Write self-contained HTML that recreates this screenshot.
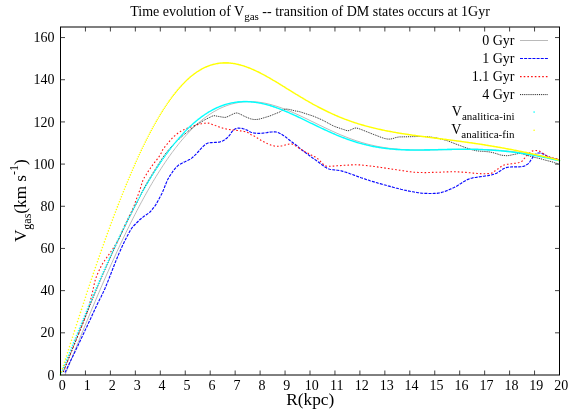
<!DOCTYPE html>
<html><head><meta charset="utf-8"><title>V_gas time evolution</title>
<style>
html,body{margin:0;padding:0;background:#fff;}
body{width:575px;height:411px;overflow:hidden;position:relative;font-family:"Liberation Serif",serif;}
</style></head><body>
<svg width="575" height="411" viewBox="0 0 575 411" style="position:absolute;left:0;top:0;will-change:transform">
<rect width="575" height="411" fill="#fff"/>
<path d="M65.0,375.0 L66.0,372.5 L67.0,370.0 L68.0,367.5 L69.0,365.0 L70.0,362.6 L71.0,360.1 L72.0,357.6 L73.0,355.1 L74.0,352.7 L75.0,350.2 L76.0,347.7 L77.0,345.3 L78.0,342.8 L79.0,340.3 L80.0,337.9 L81.0,335.4 L82.0,333.0 L83.0,330.6 L84.0,328.1 L85.0,325.7 L86.0,323.3 L87.0,320.9 L88.0,318.4 L89.0,316.0 L90.0,313.6 L91.0,311.2 L92.0,308.8 L93.0,306.5 L94.0,304.1 L95.0,301.7 L96.0,299.3 L97.0,297.0 L98.0,294.6 L99.0,292.3 L100.0,290.0 L101.0,287.6 L102.0,285.3 L103.0,283.0 L104.0,280.7 L105.0,278.4 L106.0,276.1 L107.0,273.8 L108.0,271.6 L109.0,269.3 L110.0,267.1 L111.0,264.8 L112.0,262.6 L113.0,260.4 L114.0,258.2 L115.0,256.0 L116.0,253.8 L117.0,251.6 L118.0,249.4 L119.0,247.3 L120.0,245.1 L121.0,243.0 L122.0,240.9 L123.0,238.8 L124.0,236.7 L125.0,234.6 L126.0,232.5 L127.0,230.4 L128.0,228.4 L129.0,226.4 L130.0,224.3 L131.0,222.3 L132.0,220.3 L133.0,218.3 L134.0,216.4 L135.0,214.4 L136.0,212.5 L137.0,210.5 L138.0,208.6 L139.0,206.7 L140.0,204.8 L141.0,202.9 L142.0,201.1 L143.0,199.2 L144.0,197.4 L145.0,195.6 L146.0,193.8 L147.0,192.0 L148.0,190.2 L149.0,188.5 L150.0,186.7 L151.0,185.0 L152.0,183.3 L153.0,181.6 L154.0,179.9 L155.0,178.3 L156.0,176.6 L157.0,175.0 L158.0,173.4 L159.0,171.8 L160.0,170.2 L161.0,168.7 L162.0,167.1 L163.0,165.6 L164.0,164.1 L165.0,162.6 L166.0,161.1 L167.0,159.7 L168.0,158.2 L169.0,156.8 L170.0,155.4 L171.0,154.0 L172.0,152.6 L173.0,151.3 L174.0,150.0 L175.0,148.6 L176.0,147.3 L177.0,146.1 L178.0,144.8 L179.0,143.5 L180.0,142.3 L181.0,141.1 L182.0,139.9 L183.0,138.8 L184.0,137.6 L185.0,136.5 L186.0,135.3 L187.0,134.3 L188.0,133.2 L189.0,132.1 L190.0,131.1 L191.0,130.0 L192.0,129.0 L193.0,128.1 L194.0,127.1 L195.0,126.1 L196.0,125.2 L197.0,124.3 L198.0,123.4 L199.0,122.5 L200.0,121.7 L201.0,120.8 L202.0,120.0 L203.0,119.2 L204.0,118.4 L205.0,117.7 L206.0,116.9 L207.0,116.2 L208.0,115.5 L209.0,114.8 L210.0,114.1 L211.0,113.5 L212.0,112.9 L213.0,112.2 L214.0,111.6 L215.0,111.1 L216.0,110.5 L217.0,110.0 L218.0,109.4 L219.0,108.9 L220.0,108.4 L221.0,108.0 L222.0,107.5 L223.0,107.1 L224.0,106.7 L225.0,106.3 L226.0,105.9 L227.0,105.5 L228.0,105.2 L229.0,104.8 L230.0,104.5 L231.0,104.2 L232.0,103.9 L233.0,103.7 L234.0,103.4 L235.0,103.2 L236.0,103.0 L237.0,102.8 L238.0,102.6 L239.0,102.4 L240.0,102.3 L241.0,102.1 L242.0,102.0 L243.0,101.9 L244.0,101.8 L245.0,101.8 L246.0,101.7 L247.0,101.7 L248.0,101.6 L249.0,101.6 L250.0,101.6 L251.0,101.6 L252.0,101.7 L253.0,101.7 L254.0,101.7 L255.0,101.8 L256.0,101.9 L257.0,102.0 L258.0,102.1 L259.0,102.2 L260.0,102.4 L261.0,102.5 L262.0,102.7 L263.0,102.8 L264.0,103.0 L265.0,103.2 L266.0,103.4 L267.0,103.6 L268.0,103.9 L269.0,104.1 L270.0,104.4 L271.0,104.6 L272.0,104.9 L273.0,105.2 L274.0,105.5 L275.0,105.8 L276.0,106.1 L277.0,106.4 L278.0,106.7 L279.0,107.1 L280.0,107.4 L281.0,107.8 L282.0,108.1 L283.0,108.5 L284.0,108.9 L285.0,109.2 L286.0,109.6 L287.0,110.0 L288.0,110.4 L289.0,110.9 L290.0,111.3 L291.0,111.7 L292.0,112.1 L293.0,112.5 L294.0,113.0 L295.0,113.4 L296.0,113.9 L297.0,114.3 L298.0,114.8 L299.0,115.2 L300.0,115.7 L301.0,116.2 L302.0,116.6 L303.0,117.1 L304.0,117.6 L305.0,118.1 L306.0,118.5 L307.0,119.0 L308.0,119.5 L309.0,120.0 L310.0,120.5 L311.0,121.0 L312.0,121.5 L313.0,121.9 L314.0,122.4 L315.0,122.9 L316.0,123.4 L317.0,123.9 L318.0,124.4 L319.0,124.9 L320.0,125.4 L321.0,125.8 L322.0,126.3 L323.0,126.8 L324.0,127.3 L325.0,127.8 L326.0,128.2 L327.0,128.7 L328.0,129.2 L329.0,129.6 L330.0,130.1 L331.0,130.6 L332.0,131.0 L333.0,131.5 L334.0,131.9 L335.0,132.4 L336.0,132.8 L337.0,133.3 L338.0,133.7 L339.0,134.1 L340.0,134.6 L341.0,135.0 L342.0,135.4 L343.0,135.8 L344.0,136.2 L345.0,136.6 L346.0,137.0 L347.0,137.4 L348.0,137.8 L349.0,138.2 L350.0,138.5 L351.0,138.9 L352.0,139.3 L353.0,139.6 L354.0,140.0 L355.0,140.3 L356.0,140.7 L357.0,141.0 L358.0,141.3 L359.0,141.6 L360.0,141.9 L361.0,142.3 L362.0,142.6 L363.0,142.8 L364.0,143.1 L365.0,143.4 L366.0,143.7 L367.0,144.0 L368.0,144.2 L369.0,144.5 L370.0,144.7 L371.0,145.0 L372.0,145.2 L373.0,145.4 L374.0,145.7 L375.0,145.9 L376.0,146.1 L377.0,146.3 L378.0,146.5 L379.0,146.7 L380.0,146.9 L381.0,147.0 L382.0,147.2 L383.0,147.4 L384.0,147.5 L385.0,147.7 L386.0,147.8 L387.0,148.0 L388.0,148.1 L389.0,148.3 L390.0,148.4 L391.0,148.5 L392.0,148.6 L393.0,148.7 L394.0,148.8 L395.0,148.9 L396.0,149.0 L397.0,149.1 L398.0,149.2 L399.0,149.3 L400.0,149.3 L401.0,149.4 L402.0,149.5 L403.0,149.5 L404.0,149.6 L405.0,149.7 L406.0,149.7 L407.0,149.7 L408.0,149.8 L409.0,149.8 L410.0,149.9 L411.0,149.9 L412.0,149.9 L413.0,149.9 L414.0,150.0 L415.0,150.0 L416.0,150.0 L417.0,150.0 L418.0,150.0 L419.0,150.0 L420.0,150.0 L421.0,150.0 L422.0,150.0 L423.0,150.0 L424.0,150.0 L425.0,150.0 L426.0,150.0 L427.0,150.0 L428.0,150.0 L429.0,150.0 L430.0,149.9 L431.0,149.9 L432.0,149.9 L433.0,149.9 L434.0,149.9 L435.0,149.8 L436.0,149.8 L437.0,149.8 L438.0,149.8 L439.0,149.7 L440.0,149.7 L441.0,149.7 L442.0,149.7 L443.0,149.7 L444.0,149.6 L445.0,149.6 L446.0,149.6 L447.0,149.6 L448.0,149.5 L449.0,149.5 L450.0,149.5 L451.0,149.5 L452.0,149.4 L453.0,149.4 L454.0,149.4 L455.0,149.4 L456.0,149.4 L457.0,149.3 L458.0,149.3 L459.0,149.3 L460.0,149.3 L461.0,149.3 L462.0,149.3 L463.0,149.3 L464.0,149.3 L465.0,149.3 L466.0,149.2 L467.0,149.2 L468.0,149.2 L469.0,149.2 L470.0,149.2 L471.0,149.3 L472.0,149.3 L473.0,149.3 L474.0,149.3 L475.0,149.3 L476.0,149.3 L477.0,149.3 L478.0,149.3 L479.0,149.4 L480.0,149.4 L481.0,149.4 L482.0,149.4 L483.0,149.5 L484.0,149.5 L485.0,149.5 L486.0,149.6 L487.0,149.6 L488.0,149.7 L489.0,149.7 L490.0,149.7 L491.0,149.8 L492.0,149.8 L493.0,149.9 L494.0,150.0 L495.0,150.0 L496.0,150.1 L497.0,150.2 L498.0,150.2 L499.0,150.3 L500.0,150.4 L501.0,150.4 L502.0,150.5 L503.0,150.6 L504.0,150.7 L505.0,150.8 L506.0,150.9 L507.0,151.0 L508.0,151.1 L509.0,151.2 L510.0,151.3 L511.0,151.4 L512.0,151.5 L513.0,151.6 L514.0,151.7 L515.0,151.8 L516.0,151.9 L517.0,152.1 L518.0,152.2 L519.0,152.3 L520.0,152.4 L521.0,152.6 L522.0,152.7 L523.0,152.9 L524.0,153.0 L525.0,153.1 L526.0,153.3 L527.0,153.4 L528.0,153.6 L529.0,153.7 L530.0,153.9 L531.0,154.1 L532.0,154.2 L533.0,154.4 L534.0,154.6 L535.0,154.7 L536.0,154.9 L537.0,155.1 L538.0,155.3 L539.0,155.5 L540.0,155.6 L541.0,155.8 L542.0,156.0 L543.0,156.2 L544.0,156.4 L545.0,156.6 L546.0,156.8 L547.0,157.0 L548.0,157.2 L549.0,157.4 L550.0,157.6 L551.0,157.8 L552.0,158.1 L553.0,158.3 L554.0,158.5 L555.0,158.7 L556.0,158.9 L557.0,159.2 L558.0,159.4 L559.0,159.6 L559.5,159.7" stroke="#b2b2b2" stroke-width="0.9" fill="none"/>
<path d="M65.0,372.5 L66.0,370.4 L67.0,368.4 L68.0,366.3 L69.0,364.2 L70.0,362.1 L71.0,360.0 L72.0,358.0 L73.0,355.9 L74.0,353.8 L75.0,351.7 L76.0,349.6 L77.0,347.5 L78.0,345.4 L79.0,343.3 L80.0,341.2 L81.0,339.1 L82.0,337.0 L83.0,334.8 L84.0,332.7 L85.0,330.6 L86.0,328.5 L87.0,326.4 L88.0,324.2 L89.0,322.1 L90.0,319.9 L91.0,317.8 L92.0,315.6 L93.0,313.4 L94.0,311.3 L95.0,309.1 L96.0,307.0 L97.0,304.8 L98.0,302.8 L99.0,300.8 L100.0,298.8 L101.0,296.9 L102.0,294.8 L103.0,292.8 L104.0,290.6 L105.0,288.4 L106.0,286.0 L107.0,283.6 L108.0,281.1 L109.0,278.6 L110.0,276.0 L111.0,273.5 L112.0,270.9 L113.0,268.3 L114.0,265.7 L115.0,263.1 L116.0,260.6 L117.0,258.2 L118.0,255.8 L119.0,253.4 L120.0,251.2 L121.0,248.9 L122.0,246.8 L123.0,244.6 L124.0,242.5 L125.0,240.5 L126.0,238.5 L127.0,236.6 L128.0,234.7 L129.0,232.8 L130.0,231.0 L131.0,229.3 L132.0,227.8 L133.0,226.6 L134.0,225.5 L135.0,224.5 L136.0,223.5 L137.0,222.5 L138.0,221.5 L139.0,220.5 L140.0,219.5 L141.0,218.7 L142.0,217.9 L143.0,217.1 L144.0,216.3 L145.0,215.6 L146.0,214.9 L147.0,214.3 L148.0,213.6 L149.0,212.9 L150.0,212.0 L151.0,210.9 L152.0,209.7 L153.0,208.4 L154.0,207.2 L155.0,205.9 L156.0,204.4 L157.0,202.6 L158.0,200.8 L159.0,198.9 L160.0,197.1 L161.0,195.2 L162.0,193.3 L163.0,191.1 L164.0,188.6 L165.0,186.0 L166.0,183.5 L167.0,181.1 L168.0,179.0 L169.0,177.2 L170.0,175.6 L171.0,174.2 L172.0,172.7 L173.0,171.2 L174.0,169.9 L175.0,168.6 L176.0,167.5 L177.0,166.5 L178.0,165.6 L179.0,164.8 L180.0,164.3 L181.0,163.7 L182.0,163.2 L183.0,162.7 L184.0,162.1 L185.0,161.7 L186.0,161.2 L187.0,160.7 L188.0,160.3 L189.0,159.8 L190.0,159.3 L191.0,158.6 L192.0,157.9 L193.0,157.0 L194.0,156.1 L195.0,155.2 L196.0,154.2 L197.0,153.1 L198.0,152.0 L199.0,150.9 L200.0,149.7 L201.0,148.6 L202.0,147.5 L203.0,146.5 L204.0,145.6 L205.0,144.7 L206.0,143.9 L207.0,143.4 L208.0,143.0 L209.0,142.9 L210.0,142.7 L211.0,142.6 L212.0,142.6 L213.0,142.5 L214.0,142.5 L215.0,142.4 L216.0,142.4 L217.0,142.4 L218.0,142.3 L219.0,142.1 L220.0,141.9 L221.0,141.5 L222.0,141.2 L223.0,140.8 L224.0,140.2 L225.0,139.6 L226.0,138.8 L227.0,138.0 L228.0,136.9 L229.0,135.8 L230.0,134.6 L231.0,133.2 L232.0,131.6 L233.0,130.5 L234.0,129.6 L235.0,129.0 L236.0,128.6 L237.0,128.3 L238.0,128.1 L239.0,128.1 L240.0,128.2 L241.0,128.2 L242.0,128.4 L243.0,128.7 L244.0,129.0 L245.0,129.3 L246.0,129.7 L247.0,130.1 L248.0,130.7 L249.0,131.3 L250.0,131.8 L251.0,132.2 L252.0,132.5 L253.0,132.8 L254.0,133.0 L255.0,133.1 L256.0,133.2 L257.0,133.4 L258.0,133.4 L259.0,133.4 L260.0,133.4 L261.0,133.3 L262.0,133.2 L263.0,133.1 L264.0,133.0 L265.0,132.8 L266.0,132.7 L267.0,132.6 L268.0,132.4 L269.0,132.3 L270.0,132.1 L271.0,132.0 L272.0,132.0 L273.0,131.9 L274.0,131.9 L275.0,131.9 L276.0,132.0 L277.0,132.2 L278.0,132.5 L279.0,132.9 L280.0,133.4 L281.0,133.9 L282.0,134.5 L283.0,135.2 L284.0,135.9 L285.0,136.6 L286.0,137.3 L287.0,138.1 L288.0,138.9 L289.0,139.7 L290.0,140.5 L291.0,141.2 L292.0,142.0 L293.0,142.7 L294.0,143.5 L295.0,144.2 L296.0,145.0 L297.0,145.7 L298.0,146.6 L299.0,147.6 L300.0,148.5 L301.0,149.3 L302.0,150.0 L303.0,150.8 L304.0,151.5 L305.0,152.3 L306.0,153.0 L307.0,153.8 L308.0,154.5 L309.0,155.3 L310.0,156.0 L311.0,156.7 L312.0,157.5 L313.0,158.2 L314.0,158.9 L315.0,159.6 L316.0,160.3 L317.0,161.1 L318.0,161.8 L319.0,162.5 L320.0,163.3 L321.0,164.0 L322.0,164.8 L323.0,165.5 L324.0,166.3 L325.0,167.0 L326.0,167.6 L327.0,168.2 L328.0,168.6 L329.0,169.0 L330.0,169.3 L331.0,169.5 L332.0,169.7 L333.0,169.8 L334.0,169.9 L335.0,170.0 L336.0,170.1 L337.0,170.2 L338.0,170.3 L339.0,170.5 L340.0,170.6 L341.0,170.8 L342.0,171.1 L343.0,171.4 L344.0,171.7 L345.0,172.0 L346.0,172.3 L347.0,172.6 L348.0,173.0 L349.0,173.3 L350.0,173.7 L351.0,174.0 L352.0,174.4 L353.0,174.7 L354.0,175.1 L355.0,175.5 L356.0,175.8 L357.0,176.2 L358.0,176.6 L359.0,177.0 L360.0,177.3 L361.0,177.7 L362.0,178.0 L363.0,178.4 L364.0,178.7 L365.0,179.0 L366.0,179.4 L367.0,179.7 L368.0,180.0 L369.0,180.3 L370.0,180.7 L371.0,181.0 L372.0,181.3 L373.0,181.6 L374.0,181.9 L375.0,182.2 L376.0,182.5 L377.0,182.8 L378.0,183.1 L379.0,183.3 L380.0,183.6 L381.0,183.9 L382.0,184.2 L383.0,184.5 L384.0,184.8 L385.0,185.0 L386.0,185.3 L387.0,185.6 L388.0,185.9 L389.0,186.1 L390.0,186.4 L391.0,186.7 L392.0,186.9 L393.0,187.2 L394.0,187.5 L395.0,187.7 L396.0,188.0 L397.0,188.2 L398.0,188.5 L399.0,188.7 L400.0,189.0 L401.0,189.3 L402.0,189.5 L403.0,189.7 L404.0,190.0 L405.0,190.2 L406.0,190.4 L407.0,190.7 L408.0,190.9 L409.0,191.1 L410.0,191.3 L411.0,191.5 L412.0,191.7 L413.0,191.8 L414.0,192.0 L415.0,192.2 L416.0,192.4 L417.0,192.5 L418.0,192.7 L419.0,192.8 L420.0,193.0 L421.0,193.1 L422.0,193.2 L423.0,193.2 L424.0,193.3 L425.0,193.3 L426.0,193.4 L427.0,193.4 L428.0,193.4 L429.0,193.5 L430.0,193.5 L431.0,193.5 L432.0,193.5 L433.0,193.5 L434.0,193.4 L435.0,193.4 L436.0,193.3 L437.0,193.3 L438.0,193.1 L439.0,193.0 L440.0,192.8 L441.0,192.6 L442.0,192.3 L443.0,192.0 L444.0,191.7 L445.0,191.4 L446.0,191.0 L447.0,190.6 L448.0,190.2 L449.0,189.7 L450.0,189.3 L451.0,188.9 L452.0,188.5 L453.0,188.0 L454.0,187.6 L455.0,187.0 L456.0,186.5 L457.0,185.9 L458.0,185.3 L459.0,184.6 L460.0,184.0 L461.0,183.4 L462.0,182.7 L463.0,182.1 L464.0,181.5 L465.0,180.9 L466.0,180.3 L467.0,179.8 L468.0,179.4 L469.0,179.0 L470.0,178.6 L471.0,178.3 L472.0,178.1 L473.0,177.8 L474.0,177.6 L475.0,177.5 L476.0,177.4 L477.0,177.2 L478.0,177.1 L479.0,176.9 L480.0,176.8 L481.0,176.6 L482.0,176.5 L483.0,176.3 L484.0,176.2 L485.0,176.0 L486.0,175.9 L487.0,175.7 L488.0,175.6 L489.0,175.4 L490.0,175.2 L491.0,175.0 L492.0,174.8 L493.0,174.5 L494.0,174.2 L495.0,173.9 L496.0,173.4 L497.0,172.9 L498.0,172.3 L499.0,171.7 L500.0,171.0 L501.0,170.4 L502.0,169.7 L503.0,169.1 L504.0,168.5 L505.0,168.1 L506.0,167.7 L507.0,167.4 L508.0,167.3 L509.0,167.1 L510.0,167.0 L511.0,167.0 L512.0,166.9 L513.0,166.9 L514.0,166.9 L515.0,166.9 L516.0,166.9 L517.0,166.9 L518.0,166.9 L519.0,166.9 L520.0,166.8 L521.0,166.7 L522.0,166.5 L523.0,166.4 L524.0,166.1 L525.0,165.7 L526.0,165.2 L527.0,164.6 L528.0,163.9 L529.0,163.0 L530.0,161.5 L531.0,159.9 L532.0,158.5 L533.0,157.0 L534.0,155.8 L535.0,154.7 L536.0,153.9 L537.0,153.4 L538.0,153.0 L539.0,153.0 L540.0,153.0 L541.0,153.2 L542.0,153.5 L543.0,153.9 L544.0,154.3 L545.0,154.9 L546.0,155.5 L547.0,156.1 L548.0,156.6 L549.0,157.1 L550.0,157.6 L551.0,158.0 L552.0,158.3 L553.0,158.6 L554.0,158.9 L555.0,159.1 L556.0,159.2 L557.0,159.4 L558.0,159.5 L559.0,159.6 L559.5,159.6" stroke="#0808ff" stroke-width="1.15" stroke-dasharray="3 1.15" fill="none"/>
<path d="M63.2,372.0 L64.2,369.5 L65.2,367.0 L66.2,364.5 L67.2,362.1 L68.2,359.6 L69.2,357.1 L70.2,354.6 L71.2,352.2 L72.2,349.7 L73.2,347.2 L74.2,344.8 L75.2,342.3 L76.2,339.9 L77.2,337.4 L78.2,335.0 L79.2,332.5 L80.2,330.1 L81.2,327.6 L82.2,325.1 L83.2,322.6 L84.2,320.0 L85.2,317.3 L86.2,314.6 L87.2,311.9 L88.2,309.1 L89.2,305.8 L90.2,302.0 L91.2,297.4 L92.2,293.3 L93.2,288.9 L94.2,284.3 L95.2,280.2 L96.2,277.2 L97.2,274.7 L98.2,272.4 L99.2,270.3 L100.2,268.1 L101.2,266.1 L102.2,264.3 L103.2,262.7 L104.2,261.2 L105.2,259.7 L106.2,258.2 L107.2,256.9 L108.2,255.5 L109.2,254.2 L110.2,252.8 L111.2,251.3 L112.2,249.8 L113.2,248.3 L114.2,246.7 L115.2,245.1 L116.2,243.4 L117.2,241.7 L118.2,239.8 L119.2,237.9 L120.2,235.9 L121.2,233.8 L122.2,231.5 L123.2,229.2 L124.2,226.9 L125.2,224.7 L126.2,222.7 L127.2,220.6 L128.2,218.5 L129.2,216.4 L130.2,214.3 L131.2,212.3 L132.2,210.2 L133.2,208.0 L134.2,205.5 L135.2,202.5 L136.2,199.7 L137.2,197.1 L138.2,194.6 L139.2,191.8 L140.2,188.9 L141.2,185.9 L142.2,182.1 L143.2,179.7 L144.2,177.8 L145.2,176.1 L146.2,174.6 L147.2,173.0 L148.2,171.4 L149.2,169.9 L150.2,168.5 L151.2,167.0 L152.2,165.6 L153.2,164.2 L154.2,162.9 L155.2,161.7 L156.2,160.5 L157.2,159.2 L158.2,157.8 L159.2,156.4 L160.2,154.9 L161.2,152.9 L162.2,150.6 L163.2,149.0 L164.2,147.7 L165.2,146.4 L166.2,145.2 L167.2,144.0 L168.2,142.8 L169.2,141.6 L170.2,140.4 L171.2,139.3 L172.2,138.2 L173.2,137.1 L174.2,136.2 L175.2,135.4 L176.2,134.5 L177.2,133.7 L178.2,133.0 L179.2,132.2 L180.2,131.6 L181.2,131.0 L182.2,130.5 L183.2,130.0 L184.2,129.6 L185.2,129.1 L186.2,128.7 L187.2,128.3 L188.2,128.0 L189.2,127.6 L190.2,127.2 L191.2,126.8 L192.2,126.5 L193.2,126.1 L194.2,125.8 L195.2,125.4 L196.2,125.1 L197.2,124.8 L198.2,124.5 L199.2,124.2 L200.2,124.0 L201.2,123.8 L202.2,123.7 L203.2,123.5 L204.2,123.3 L205.2,123.2 L206.2,123.1 L207.2,123.0 L208.2,123.1 L209.2,123.2 L210.2,123.5 L211.2,124.0 L212.2,124.4 L213.2,124.8 L214.2,125.1 L215.2,125.5 L216.2,125.8 L217.2,126.2 L218.2,126.6 L219.2,126.9 L220.2,127.3 L221.2,127.6 L222.2,127.9 L223.2,128.3 L224.2,128.6 L225.2,128.8 L226.2,129.0 L227.2,129.2 L228.2,129.4 L229.2,129.5 L230.2,129.6 L231.2,129.7 L232.2,129.9 L233.2,130.0 L234.2,130.1 L235.2,130.2 L236.2,130.4 L237.2,130.5 L238.2,130.6 L239.2,130.8 L240.2,130.9 L241.2,131.0 L242.2,131.2 L243.2,131.3 L244.2,131.5 L245.2,131.6 L246.2,131.9 L247.2,132.2 L248.2,132.7 L249.2,133.4 L250.2,134.1 L251.2,134.7 L252.2,135.2 L253.2,135.6 L254.2,136.1 L255.2,136.7 L256.2,137.3 L257.2,137.9 L258.2,138.6 L259.2,139.2 L260.2,139.8 L261.2,140.4 L262.2,140.9 L263.2,141.5 L264.2,142.0 L265.2,142.5 L266.2,143.0 L267.2,143.5 L268.2,143.9 L269.2,144.4 L270.2,144.8 L271.2,145.2 L272.2,145.5 L273.2,145.8 L274.2,146.0 L275.2,146.2 L276.2,146.3 L277.2,146.3 L278.2,146.3 L279.2,146.3 L280.2,146.2 L281.2,146.0 L282.2,145.8 L283.2,145.5 L284.2,145.3 L285.2,145.0 L286.2,144.8 L287.2,144.5 L288.2,144.3 L289.2,144.0 L290.2,143.8 L291.2,143.8 L292.2,144.0 L293.2,144.5 L294.2,145.0 L295.2,145.6 L296.2,146.2 L297.2,146.8 L298.2,147.5 L299.2,148.2 L300.2,148.8 L301.2,149.5 L302.2,150.1 L303.2,150.7 L304.2,151.3 L305.2,151.9 L306.2,152.4 L307.2,152.8 L308.2,153.3 L309.2,153.8 L310.2,154.3 L311.2,154.9 L312.2,155.4 L313.2,155.9 L314.2,156.4 L315.2,156.9 L316.2,157.5 L317.2,158.2 L318.2,159.2 L319.2,160.2 L320.2,161.2 L321.2,162.2 L322.2,163.1 L323.2,164.1 L324.2,165.0 L325.2,165.7 L326.2,166.1 L327.2,166.3 L328.2,166.3 L329.2,166.3 L330.2,166.3 L331.2,166.2 L332.2,166.2 L333.2,166.1 L334.2,166.0 L335.2,165.9 L336.2,165.9 L337.2,165.8 L338.2,165.7 L339.2,165.6 L340.2,165.6 L341.2,165.5 L342.2,165.4 L343.2,165.4 L344.2,165.3 L345.2,165.3 L346.2,165.2 L347.2,165.2 L348.2,165.1 L349.2,165.0 L350.2,165.0 L351.2,164.9 L352.2,164.9 L353.2,164.9 L354.2,164.8 L355.2,164.8 L356.2,164.8 L357.2,164.8 L358.2,164.8 L359.2,164.9 L360.2,164.9 L361.2,165.0 L362.2,165.1 L363.2,165.2 L364.2,165.3 L365.2,165.4 L366.2,165.5 L367.2,165.6 L368.2,165.7 L369.2,165.9 L370.2,166.0 L371.2,166.1 L372.2,166.3 L373.2,166.4 L374.2,166.5 L375.2,166.6 L376.2,166.8 L377.2,166.9 L378.2,167.1 L379.2,167.2 L380.2,167.3 L381.2,167.5 L382.2,167.6 L383.2,167.8 L384.2,167.9 L385.2,168.1 L386.2,168.2 L387.2,168.4 L388.2,168.5 L389.2,168.6 L390.2,168.8 L391.2,168.9 L392.2,169.1 L393.2,169.2 L394.2,169.4 L395.2,169.5 L396.2,169.7 L397.2,169.8 L398.2,169.9 L399.2,170.1 L400.2,170.2 L401.2,170.4 L402.2,170.6 L403.2,170.7 L404.2,170.9 L405.2,171.1 L406.2,171.3 L407.2,171.4 L408.2,171.6 L409.2,171.7 L410.2,171.8 L411.2,171.9 L412.2,172.1 L413.2,172.2 L414.2,172.2 L415.2,172.3 L416.2,172.4 L417.2,172.4 L418.2,172.5 L419.2,172.5 L420.2,172.5 L421.2,172.5 L422.2,172.5 L423.2,172.6 L424.2,172.6 L425.2,172.6 L426.2,172.6 L427.2,172.5 L428.2,172.5 L429.2,172.5 L430.2,172.5 L431.2,172.4 L432.2,172.4 L433.2,172.4 L434.2,172.4 L435.2,172.3 L436.2,172.3 L437.2,172.3 L438.2,172.2 L439.2,172.2 L440.2,172.2 L441.2,172.1 L442.2,172.1 L443.2,172.0 L444.2,172.0 L445.2,172.0 L446.2,171.9 L447.2,171.9 L448.2,171.9 L449.2,171.8 L450.2,171.8 L451.2,171.8 L452.2,171.8 L453.2,171.8 L454.2,171.8 L455.2,171.8 L456.2,171.8 L457.2,171.9 L458.2,171.9 L459.2,172.0 L460.2,172.0 L461.2,172.1 L462.2,172.1 L463.2,172.2 L464.2,172.3 L465.2,172.4 L466.2,172.4 L467.2,172.5 L468.2,172.6 L469.2,172.7 L470.2,172.8 L471.2,172.9 L472.2,173.0 L473.2,173.1 L474.2,173.2 L475.2,173.3 L476.2,173.4 L477.2,173.5 L478.2,173.6 L479.2,173.6 L480.2,173.6 L481.2,173.7 L482.2,173.7 L483.2,173.7 L484.2,173.7 L485.2,173.7 L486.2,173.7 L487.2,173.6 L488.2,173.5 L489.2,173.5 L490.2,173.4 L491.2,173.2 L492.2,172.9 L493.2,172.2 L494.2,171.5 L495.2,170.8 L496.2,170.1 L497.2,169.4 L498.2,168.7 L499.2,168.0 L500.2,167.3 L501.2,166.5 L502.2,165.9 L503.2,165.3 L504.2,164.9 L505.2,164.6 L506.2,164.5 L507.2,164.3 L508.2,164.2 L509.2,164.1 L510.2,163.9 L511.2,163.8 L512.2,163.7 L513.2,163.6 L514.2,163.4 L515.2,163.3 L516.2,163.1 L517.2,162.9 L518.2,162.7 L519.2,162.5 L520.2,162.2 L521.2,161.7 L522.2,161.0 L523.2,160.0 L524.2,158.7 L525.2,157.5 L526.2,156.4 L527.2,155.4 L528.2,154.4 L529.2,153.4 L530.2,152.5 L531.2,151.7 L532.2,151.1 L533.2,150.8 L534.2,150.5 L535.2,150.5 L536.2,150.5 L537.2,150.6 L538.2,150.8 L539.2,151.1 L540.2,151.6 L541.2,152.2 L542.2,152.9 L543.2,153.5 L544.2,154.2 L545.2,154.8 L546.2,155.4 L547.2,156.0 L548.2,156.4 L549.2,156.8 L550.2,157.1 L551.2,157.4 L552.2,157.7 L553.2,158.0 L554.2,158.2 L555.2,158.5 L556.2,158.7 L557.2,158.9 L558.2,159.2 L559.2,159.4 L559.5,159.5" stroke="#ff1010" stroke-width="1.1" stroke-dasharray="1.6 2.1" fill="none"/>
<path d="M63.2,372.0 L64.2,369.5 L65.2,367.0 L66.2,364.4 L67.2,361.9 L68.2,359.4 L69.2,356.9 L70.2,354.4 L71.2,351.9 L72.2,349.4 L73.2,347.0 L74.2,344.5 L75.2,342.0 L76.2,339.5 L77.2,337.0 L78.2,334.6 L79.2,332.1 L80.2,329.6 L81.2,327.1 L82.2,324.7 L83.2,322.2 L84.2,319.7 L85.2,317.2 L86.2,314.7 L87.2,312.2 L88.2,309.7 L89.2,307.2 L90.2,304.8 L91.2,302.3 L92.2,299.8 L93.2,297.3 L94.2,294.9 L95.2,292.5 L96.2,290.0 L97.2,287.7 L98.2,285.3 L99.2,282.9 L100.2,280.6 L101.2,278.2 L102.2,275.9 L103.2,273.6 L104.2,271.3 L105.2,269.1 L106.2,266.8 L107.2,264.5 L108.2,262.3 L109.2,260.0 L110.2,257.8 L111.2,255.6 L112.2,253.3 L113.2,251.1 L114.2,248.9 L115.2,246.7 L116.2,244.6 L117.2,242.4 L118.2,240.3 L119.2,238.2 L120.2,236.0 L121.2,234.0 L122.2,231.9 L123.2,229.8 L124.2,227.7 L125.2,225.7 L126.2,223.6 L127.2,221.6 L128.2,219.6 L129.2,217.6 L130.2,215.6 L131.2,213.6 L132.2,211.7 L133.2,209.7 L134.2,207.8 L135.2,205.9 L136.2,204.0 L137.2,202.1 L138.2,200.2 L139.2,198.2 L140.2,196.1 L141.2,194.0 L142.2,191.9 L143.2,189.9 L144.2,188.0 L145.2,186.1 L146.2,184.3 L147.2,182.6 L148.2,180.8 L149.2,179.2 L150.2,177.5 L151.2,175.9 L152.2,174.2 L153.2,172.6 L154.2,171.0 L155.2,169.4 L156.2,167.8 L157.2,166.2 L158.2,164.6 L159.2,163.1 L160.2,161.5 L161.2,160.0 L162.2,158.5 L163.2,157.0 L164.2,155.6 L165.2,154.2 L166.2,152.9 L167.2,151.6 L168.2,150.4 L169.2,149.2 L170.2,148.0 L171.2,146.9 L172.2,145.9 L173.2,144.9 L174.2,143.8 L175.2,142.9 L176.2,141.9 L177.2,140.9 L178.2,140.0 L179.2,139.0 L180.2,138.1 L181.2,137.1 L182.2,136.2 L183.2,135.4 L184.2,134.5 L185.2,133.7 L186.2,132.9 L187.2,132.1 L188.2,131.2 L189.2,130.4 L190.2,129.6 L191.2,128.7 L192.2,127.9 L193.2,127.1 L194.2,126.2 L195.2,125.4 L196.2,124.7 L197.2,124.1 L198.2,123.6 L199.2,123.1 L200.2,122.6 L201.2,122.0 L202.2,121.4 L203.2,120.8 L204.2,120.2 L205.2,119.6 L206.2,119.1 L207.2,118.6 L208.2,118.1 L209.2,117.6 L210.2,117.2 L211.2,116.6 L212.2,116.2 L213.2,115.8 L214.2,115.7 L215.2,115.8 L216.2,116.0 L217.2,116.2 L218.2,116.4 L219.2,116.5 L220.2,116.7 L221.2,116.9 L222.2,117.1 L223.2,117.2 L224.2,117.4 L225.2,117.4 L226.2,117.2 L227.2,116.8 L228.2,116.4 L229.2,115.9 L230.2,115.4 L231.2,114.9 L232.2,114.4 L233.2,114.0 L234.2,113.5 L235.2,113.2 L236.2,113.0 L237.2,113.0 L238.2,113.3 L239.2,113.7 L240.2,114.2 L241.2,114.6 L242.2,115.2 L243.2,115.7 L244.2,116.2 L245.2,116.6 L246.2,117.1 L247.2,117.5 L248.2,117.9 L249.2,118.3 L250.2,118.7 L251.2,119.0 L252.2,119.2 L253.2,119.4 L254.2,119.5 L255.2,119.5 L256.2,119.5 L257.2,119.4 L258.2,119.3 L259.2,119.1 L260.2,118.9 L261.2,118.6 L262.2,118.3 L263.2,118.0 L264.2,117.7 L265.2,117.4 L266.2,117.1 L267.2,116.8 L268.2,116.5 L269.2,116.2 L270.2,115.8 L271.2,115.5 L272.2,115.0 L273.2,114.6 L274.2,114.2 L275.2,113.8 L276.2,113.4 L277.2,113.0 L278.2,112.6 L279.2,112.2 L280.2,111.7 L281.2,111.0 L282.2,110.3 L283.2,109.8 L284.2,109.4 L285.2,109.1 L286.2,109.1 L287.2,109.1 L288.2,109.3 L289.2,109.4 L290.2,109.6 L291.2,109.9 L292.2,110.1 L293.2,110.4 L294.2,110.7 L295.2,110.9 L296.2,111.1 L297.2,111.2 L298.2,111.4 L299.2,111.6 L300.2,111.9 L301.2,112.2 L302.2,112.5 L303.2,112.8 L304.2,113.2 L305.2,113.5 L306.2,113.8 L307.2,114.2 L308.2,114.5 L309.2,114.8 L310.2,115.1 L311.2,115.4 L312.2,115.8 L313.2,116.1 L314.2,116.5 L315.2,116.9 L316.2,117.4 L317.2,117.8 L318.2,118.2 L319.2,118.6 L320.2,119.1 L321.2,119.5 L322.2,120.0 L323.2,120.5 L324.2,121.0 L325.2,121.5 L326.2,122.1 L327.2,122.6 L328.2,123.2 L329.2,123.7 L330.2,124.2 L331.2,124.8 L332.2,125.3 L333.2,125.8 L334.2,126.3 L335.2,126.7 L336.2,127.0 L337.2,127.4 L338.2,127.7 L339.2,128.0 L340.2,128.4 L341.2,128.7 L342.2,129.1 L343.2,129.4 L344.2,129.7 L345.2,130.1 L346.2,130.4 L347.2,130.7 L348.2,130.7 L349.2,130.5 L350.2,130.1 L351.2,129.7 L352.2,129.2 L353.2,128.7 L354.2,128.3 L355.2,128.1 L356.2,128.0 L357.2,128.2 L358.2,128.5 L359.2,128.8 L360.2,129.1 L361.2,129.5 L362.2,129.9 L363.2,130.3 L364.2,130.7 L365.2,131.1 L366.2,131.5 L367.2,131.9 L368.2,132.3 L369.2,132.7 L370.2,133.1 L371.2,133.5 L372.2,133.9 L373.2,134.3 L374.2,134.7 L375.2,135.0 L376.2,135.4 L377.2,135.8 L378.2,136.2 L379.2,136.6 L380.2,137.0 L381.2,137.3 L382.2,137.7 L383.2,138.0 L384.2,138.4 L385.2,138.6 L386.2,138.8 L387.2,139.0 L388.2,139.1 L389.2,139.1 L390.2,139.1 L391.2,138.9 L392.2,138.7 L393.2,138.5 L394.2,138.1 L395.2,137.7 L396.2,137.5 L397.2,137.3 L398.2,137.1 L399.2,136.9 L400.2,136.9 L401.2,136.9 L402.2,136.9 L403.2,136.8 L404.2,136.8 L405.2,136.8 L406.2,136.8 L407.2,136.8 L408.2,136.7 L409.2,136.7 L410.2,136.7 L411.2,136.7 L412.2,136.6 L413.2,136.6 L414.2,136.6 L415.2,136.6 L416.2,136.5 L417.2,136.5 L418.2,136.5 L419.2,136.5 L420.2,136.5 L421.2,136.5 L422.2,136.5 L423.2,136.5 L424.2,136.6 L425.2,136.6 L426.2,136.7 L427.2,136.8 L428.2,136.8 L429.2,136.9 L430.2,137.0 L431.2,137.1 L432.2,137.3 L433.2,137.4 L434.2,137.6 L435.2,137.8 L436.2,137.9 L437.2,138.1 L438.2,138.4 L439.2,138.6 L440.2,138.8 L441.2,139.1 L442.2,139.3 L443.2,139.6 L444.2,139.9 L445.2,140.2 L446.2,140.4 L447.2,140.7 L448.2,141.1 L449.2,141.4 L450.2,141.8 L451.2,142.2 L452.2,142.6 L453.2,143.0 L454.2,143.4 L455.2,143.8 L456.2,144.2 L457.2,144.5 L458.2,144.9 L459.2,145.3 L460.2,145.6 L461.2,146.0 L462.2,146.4 L463.2,146.8 L464.2,147.1 L465.2,147.5 L466.2,147.8 L467.2,148.2 L468.2,148.5 L469.2,148.9 L470.2,149.2 L471.2,149.5 L472.2,149.8 L473.2,150.1 L474.2,150.3 L475.2,150.5 L476.2,150.7 L477.2,150.9 L478.2,151.0 L479.2,151.1 L480.2,151.2 L481.2,151.3 L482.2,151.3 L483.2,151.4 L484.2,151.4 L485.2,151.5 L486.2,151.6 L487.2,151.7 L488.2,151.8 L489.2,151.9 L490.2,152.1 L491.2,152.3 L492.2,152.5 L493.2,152.7 L494.2,153.0 L495.2,153.3 L496.2,153.6 L497.2,153.9 L498.2,154.2 L499.2,154.6 L500.2,154.9 L501.2,155.1 L502.2,155.3 L503.2,155.4 L504.2,155.5 L505.2,155.6 L506.2,155.7 L507.2,155.7 L508.2,155.6 L509.2,155.5 L510.2,155.3 L511.2,155.1 L512.2,154.8 L513.2,154.6 L514.2,154.4 L515.2,154.2 L516.2,154.0 L517.2,153.7 L518.2,153.6 L519.2,153.4 L520.2,153.4 L521.2,153.6 L522.2,153.8 L523.2,154.1 L524.2,154.4 L525.2,154.7 L526.2,155.0 L527.2,155.3 L528.2,155.6 L529.2,155.9 L530.2,156.2 L531.2,156.4 L532.2,156.7 L533.2,157.0 L534.2,157.3 L535.2,157.5 L536.2,157.7 L537.2,157.9 L538.2,158.2 L539.2,158.4 L540.2,158.6 L541.2,158.9 L542.2,159.2 L543.2,159.5 L544.2,159.8 L545.2,160.1 L546.2,160.4 L547.2,160.6 L548.2,160.9 L549.2,161.1 L550.2,161.4 L551.2,161.6 L552.2,161.9 L553.2,162.2 L554.2,162.6 L555.2,162.9 L556.2,163.2 L557.2,163.6 L558.2,163.9 L558.4,164.0" stroke="#202020" stroke-width="1" stroke-dasharray="1 0.9" fill="none"/>
<path d="M60.5,375.0h0M61.5,372.5h0M62.5,370.0h0M63.5,367.5h0M64.5,365.1h0M65.5,362.6h0M66.5,360.1h0M67.5,357.6h0M68.5,355.2h0M69.5,352.7h0M70.5,350.2h0M71.5,347.8h0M72.5,345.3h0M73.5,342.9h0M74.5,340.4h0M75.5,338.0h0M76.5,335.5h0M77.5,333.1h0M78.5,330.7h0M79.5,328.2h0M80.5,325.8h0M81.5,323.4h0M82.5,321.0h0M83.5,318.6h0M84.5,316.1h0M85.5,313.8h0M86.4,311.4h0M87.4,309.0h0M88.4,306.6h0M89.4,304.2h0M90.4,301.9h0M91.4,299.5h0M92.4,297.1h0M93.4,294.8h0M94.4,292.5h0M95.4,290.1h0M96.4,287.8h0M97.4,285.5h0M98.4,283.2h0M99.4,280.9h0M100.4,278.6h0M101.4,276.3h0M102.4,274.0h0M103.4,271.8h0M104.4,269.5h0M105.4,267.3h0M106.4,265.0h0M107.4,262.8h0M108.4,260.6h0M109.4,258.4h0M110.4,256.2h0M111.4,254.0h0M112.4,251.8h0M113.4,249.7h0M114.4,247.5h0M115.4,245.4h0M116.4,243.2h0M117.4,241.1h0M118.4,239.0h0M119.4,236.9h0M120.4,234.8h0M121.4,232.8h0M122.4,230.7h0M123.4,228.7h0M124.4,226.6h0M125.4,224.6h0M126.4,222.6h0M127.4,220.6h0M128.4,218.6h0M129.4,216.6h0M130.4,214.7h0M131.4,212.7h0M132.4,210.8h0M133.4,208.9h0M134.4,207.0h0M135.3,205.1h0M136.3,203.2h0M137.3,201.4h0M138.3,199.5h0M139.3,197.7h0M140.3,195.9h0M141.3,194.1h0M142.3,192.3h0M143.3,190.5h0M144.3,188.8h0M145.3,187.0h0M146.3,185.3h0M147.3,183.6h0M148.3,181.9h0M149.3,180.2h0M150.3,178.6h0M151.3,176.9h0M152.3,175.3h0M153.3,173.7h0M154.3,172.1h0M155.3,170.5h0M156.3,169.0h0M157.3,167.4h0M158.3,165.9h0M159.3,164.4h0M160.3,162.9h0M161.3,161.4h0M162.3,160.0h0M163.3,158.5h0M164.3,157.1h0M165.3,155.7h0M166.3,154.3h0M167.3,152.9h0M168.3,151.6h0M169.3,150.2h0M170.3,148.9h0M171.3,147.6h0M172.3,146.3h0M173.3,145.1h0M174.3,143.8h0M175.3,142.6h0M176.3,141.4h0M177.3,140.2h0M178.3,139.0h0M179.3,137.9h0M180.3,136.7h0M181.3,135.6h0M182.3,134.5h0M183.3,133.4h0M184.3,132.4h0M185.2,131.3h0M186.2,130.3h0M187.2,129.3h0M188.2,128.3h0M189.2,127.3h0M190.2,126.4h0M191.2,125.5h0M192.2,124.5h0M193.2,123.6h0M194.2,122.8h0M195.2,121.9h0M196.2,121.1h0M197.2,120.2h0M198.2,119.4h0M199.2,118.7h0M200.2,117.9h0M201.2,117.1h0M202.2,116.4h0M203.2,115.7h0M204.2,115.0h0M205.2,114.3h0M206.2,113.7h0M207.2,113.0h0M208.2,112.4h0M209.2,111.8h0M210.2,111.2h0M211.2,110.7h0M212.2,110.1h0M213.2,109.6h0M214.2,109.1h0M215.2,108.6h0M216.2,108.1h0M217.2,107.6h0M218.2,107.2h0M219.2,106.8h0M220.2,106.4h0M221.2,106.0h0M222.2,105.6h0M223.2,105.3h0M224.2,104.9h0M225.2,104.6h0M226.2,104.3h0M227.2,104.0h0M228.2,103.8h0M229.2,103.5h0M230.2,103.3h0M231.2,103.0h0M232.2,102.8h0M233.2,102.7h0M234.2,102.5h0M235.2,102.3h0M236.1,102.2h0M237.1,102.1h0M238.1,101.9h0M239.1,101.9h0M240.1,101.8h0M241.1,101.7h0M242.1,101.7h0M243.1,101.6h0M244.1,101.6h0M245.1,101.6h0M246.1,101.6h0M247.1,101.6h0M248.1,101.7h0M249.1,101.7h0M250.1,101.8h0M251.1,101.9h0M252.1,102.0h0M253.1,102.1h0M254.1,102.2h0M255.1,102.3h0M256.1,102.5h0M257.1,102.6h0M258.1,102.8h0M259.1,103.0h0M260.1,103.1h0M261.1,103.3h0M262.1,103.6h0M263.1,103.8h0M264.1,104.0h0M265.1,104.3h0M266.1,104.5h0M267.1,104.8h0M268.1,105.1h0M269.1,105.3h0M270.1,105.6h0M271.1,105.9h0M272.1,106.3h0M273.1,106.6h0M274.1,106.9h0M275.1,107.3h0M276.1,107.6h0M277.1,108.0h0M278.1,108.3h0M279.1,108.7h0M280.1,109.1h0M281.1,109.5h0M282.1,109.9h0M283.1,110.3h0M284.1,110.7h0M285.0,111.1h0M286.0,111.5h0M287.0,111.9h0M288.0,112.3h0M289.0,112.8h0M290.0,113.2h0M291.0,113.7h0M292.0,114.1h0M293.0,114.6h0M294.0,115.0h0M295.0,115.5h0M296.0,115.9h0M297.0,116.4h0M298.0,116.9h0M299.0,117.4h0M300.0,117.8h0M301.0,118.3h0M302.0,118.8h0M303.0,119.3h0M304.0,119.8h0M305.0,120.2h0M306.0,120.7h0M307.0,121.2h0M308.0,121.7h0M309.0,122.2h0M310.0,122.7h0M311.0,123.2h0M312.0,123.6h0M313.0,124.1h0M314.0,124.6h0M315.0,125.1h0M316.0,125.6h0M317.0,126.1h0M318.0,126.6h0M319.0,127.0h0M320.0,127.5h0M321.0,128.0h0M322.0,128.5h0M323.0,128.9h0M324.0,129.4h0M325.0,129.9h0M326.0,130.3h0M327.0,130.8h0M328.0,131.2h0M329.0,131.7h0M330.0,132.1h0M331.0,132.6h0M332.0,133.0h0M333.0,133.5h0M334.0,133.9h0M334.9,134.3h0M335.9,134.7h0M336.9,135.2h0M337.9,135.6h0M338.9,136.0h0M339.9,136.4h0M340.9,136.8h0M341.9,137.2h0M342.9,137.6h0M343.9,137.9h0M344.9,138.3h0M345.9,138.7h0M346.9,139.1h0M347.9,139.4h0M348.9,139.8h0M349.9,140.1h0M350.9,140.5h0M351.9,140.8h0M352.9,141.1h0M353.9,141.4h0M354.9,141.8h0M355.9,142.1h0M356.9,142.4h0M357.9,142.7h0M358.9,143.0h0M359.9,143.2h0M360.9,143.5h0M361.9,143.8h0M362.9,144.1h0M363.9,144.3h0M364.9,144.6h0M365.9,144.8h0M366.9,145.1h0M367.9,145.3h0M368.9,145.5h0M369.9,145.7h0M370.9,146.0h0M371.9,146.2h0M372.9,146.4h0M373.9,146.6h0M374.9,146.7h0M375.9,146.9h0M376.9,147.1h0M377.9,147.3h0M378.9,147.4h0M379.9,147.6h0M380.9,147.7h0M381.9,147.9h0M382.9,148.0h0M383.9,148.2h0M384.8,148.3h0M385.8,148.4h0M386.8,148.5h0M387.8,148.6h0M388.8,148.8h0M389.8,148.9h0M390.8,149.0h0M391.8,149.0h0M392.8,149.1h0M393.8,149.2h0M394.8,149.3h0M395.8,149.4h0M396.8,149.4h0M397.8,149.5h0M398.8,149.6h0M399.8,149.6h0M400.8,149.7h0M401.8,149.7h0M402.8,149.8h0M403.8,149.8h0M404.8,149.8h0M405.8,149.9h0M406.8,149.9h0M407.8,149.9h0M408.8,149.9h0M409.8,150.0h0M410.8,150.0h0M411.8,150.0h0M412.8,150.0h0M413.8,150.0h0M414.8,150.0h0M415.8,150.0h0M416.8,150.0h0M417.8,150.0h0M418.8,150.0h0M419.8,150.0h0M420.8,150.0h0M421.8,150.0h0M422.8,150.0h0M423.8,150.0h0M424.8,149.9h0M425.8,149.9h0M426.8,149.9h0M427.8,149.9h0M428.8,149.9h0M429.8,149.9h0M430.8,149.8h0M431.8,149.8h0M432.8,149.8h0M433.8,149.8h0M434.8,149.7h0M435.7,149.7h0M436.7,149.7h0M437.7,149.7h0M438.7,149.6h0M439.7,149.6h0M440.7,149.6h0M441.7,149.6h0M442.7,149.5h0M443.7,149.5h0M444.7,149.5h0M445.7,149.5h0M446.7,149.5h0M447.7,149.4h0M448.7,149.4h0M449.7,149.4h0M450.7,149.4h0M451.7,149.4h0M452.7,149.3h0M453.7,149.3h0M454.7,149.3h0M455.7,149.3h0M456.7,149.3h0M457.7,149.3h0M458.7,149.3h0M459.7,149.3h0M460.7,149.3h0M461.7,149.2h0M462.7,149.2h0M463.7,149.2h0M464.7,149.2h0M465.7,149.2h0M466.7,149.3h0M467.7,149.3h0M468.7,149.3h0M469.7,149.3h0M470.7,149.3h0M471.7,149.3h0M472.7,149.3h0M473.7,149.3h0M474.7,149.4h0M475.7,149.4h0M476.7,149.4h0M477.7,149.4h0M478.7,149.5h0M479.7,149.5h0M480.7,149.5h0M481.7,149.6h0M482.7,149.6h0M483.7,149.7h0M484.6,149.7h0M485.6,149.8h0M486.6,149.8h0M487.6,149.9h0M488.6,149.9h0M489.6,150.0h0M490.6,150.0h0M491.6,150.1h0M492.6,150.2h0M493.6,150.2h0M494.6,150.3h0M495.6,150.4h0M496.6,150.5h0M497.6,150.5h0M498.6,150.6h0M499.6,150.7h0M500.6,150.8h0M501.6,150.9h0M502.6,151.0h0M503.6,151.1h0M504.6,151.2h0M505.6,151.3h0M506.6,151.4h0M507.6,151.5h0M508.6,151.6h0M509.6,151.7h0M510.6,151.8h0M511.6,152.0h0M512.6,152.1h0M513.6,152.2h0M514.6,152.3h0M515.6,152.5h0M516.6,152.6h0M517.6,152.7h0M518.6,152.9h0M519.6,153.0h0M520.6,153.2h0M521.6,153.3h0M522.6,153.5h0M523.6,153.6h0M524.6,153.8h0M525.6,153.9h0M526.6,154.1h0M527.6,154.2h0M528.6,154.4h0M529.6,154.6h0M530.6,154.7h0M531.6,154.9h0M532.6,155.1h0M533.6,155.3h0M534.5,155.5h0M535.5,155.6h0M536.5,155.8h0M537.5,156.0h0M538.5,156.2h0M539.5,156.4h0M540.5,156.6h0M541.5,156.8h0M542.5,157.0h0M543.5,157.2h0M544.5,157.4h0M545.5,157.6h0M546.5,157.8h0M547.5,158.1h0M548.5,158.3h0M549.5,158.5h0M550.5,158.7h0M551.5,158.9h0M552.5,159.2h0M553.5,159.4h0M554.5,159.6h0M555.5,159.9h0M556.5,160.1h0M557.5,160.3h0M558.5,160.6h0M559.5,160.8h0" stroke="#00ffff" stroke-width="1.6" stroke-linecap="round" fill="none"/>
<path d="M60.5,375.0h0M61.5,371.8h0M62.5,368.6h0M63.5,365.5h0M64.5,362.3h0M65.5,359.1h0M66.5,356.0h0M67.5,352.8h0M68.5,349.7h0M69.5,346.6h0M70.5,343.4h0M71.5,340.3h0M72.5,337.2h0M73.5,334.0h0M74.5,330.9h0M75.5,327.8h0M76.5,324.7h0M77.5,321.6h0M78.5,318.6h0M79.5,315.5h0M80.5,312.4h0M81.5,309.4h0M82.5,306.3h0M83.5,303.3h0M84.5,300.3h0M85.5,297.2h0M86.4,294.2h0M87.4,291.2h0M88.4,288.2h0M89.4,285.2h0M90.4,282.3h0M91.4,279.3h0M92.4,276.4h0M93.4,273.4h0M94.4,270.5h0M95.4,267.6h0M96.4,264.7h0M97.4,261.8h0M98.4,258.9h0M99.4,256.1h0M100.4,253.2h0M101.4,250.4h0M102.4,247.5h0M103.4,244.7h0M104.4,241.9h0M105.4,239.1h0M106.4,236.4h0M107.4,233.6h0M108.4,230.9h0M109.4,228.2h0M110.4,225.4h0M111.4,222.7h0M112.4,220.1h0M113.4,217.4h0M114.4,214.8h0M115.4,212.1h0M116.4,209.5h0M117.4,206.9h0M118.4,204.4h0M119.4,201.8h0M120.4,199.2h0M121.4,196.7h0M122.4,194.2h0M123.4,191.7h0M124.4,189.3h0M125.4,186.8h0M126.4,184.4h0M127.4,182.0h0M128.4,179.6h0M129.4,177.2h0M130.4,174.9h0M131.4,172.5h0M132.4,170.2h0M133.4,167.9h0M134.4,165.7h0M135.3,163.4h0M136.3,161.2h0M137.3,159.0h0M138.3,156.8h0M139.3,154.6h0M140.3,152.5h0M141.3,150.4h0M142.3,148.3h0M143.3,146.2h0M144.3,144.2h0M145.3,142.1h0M146.3,140.1h0M147.3,138.2h0M148.3,136.2h0M149.3,134.3h0M150.3,132.4h0M151.3,130.5h0M152.3,128.6h0M153.3,126.8h0M154.3,125.0h0M155.3,123.2h0M156.3,121.4h0M157.3,119.7h0M158.3,118.0h0M159.3,116.3h0M160.3,114.6h0M161.3,113.0h0M162.3,111.4h0M163.3,109.8h0M164.3,108.3h0M165.3,106.7h0M166.3,105.2h0M167.3,103.8h0M168.3,102.3h0M169.3,100.9h0M170.3,99.5h0M171.3,98.1h0M172.3,96.8h0M173.3,95.4h0M174.3,94.2h0M175.3,92.9h0M176.3,91.7h0M177.3,90.4h0M178.3,89.3h0M179.3,88.1h0M180.3,87.0h0M181.3,85.9h0M182.3,84.8h0M183.3,83.7h0M184.3,82.7h0M185.2,81.7h0M186.2,80.7h0M187.2,79.8h0M188.2,78.9h0M189.2,78.0h0M190.2,77.1h0M191.2,76.3h0M192.2,75.5h0M193.2,74.7h0M194.2,73.9h0M195.2,73.2h0M196.2,72.5h0M197.2,71.8h0M198.2,71.2h0M199.2,70.6h0M200.2,70.0h0M201.2,69.4h0M202.2,68.8h0M203.2,68.3h0M204.2,67.8h0M205.2,67.3h0M206.2,66.9h0M207.2,66.5h0M208.2,66.1h0M209.2,65.7h0M210.2,65.3h0M211.2,65.0h0M212.2,64.7h0M213.2,64.4h0M214.2,64.2h0M215.2,64.0h0M216.2,63.7h0M217.2,63.6h0M218.2,63.4h0M219.2,63.3h0M220.2,63.1h0M221.2,63.0h0M222.2,63.0h0M223.2,62.9h0M224.2,62.9h0M225.2,62.9h0M226.2,62.9h0M227.2,62.9h0M228.2,62.9h0M229.2,63.0h0M230.2,63.1h0M231.2,63.2h0M232.2,63.3h0M233.2,63.5h0M234.2,63.6h0M235.2,63.8h0M236.1,64.0h0M237.1,64.2h0M238.1,64.4h0M239.1,64.7h0M240.1,64.9h0M241.1,65.2h0M242.1,65.5h0M243.1,65.8h0M244.1,66.1h0M245.1,66.5h0M246.1,66.8h0M247.1,67.2h0M248.1,67.6h0M249.1,67.9h0M250.1,68.3h0M251.1,68.8h0M252.1,69.2h0M253.1,69.6h0M254.1,70.1h0M255.1,70.5h0M256.1,71.0h0M257.1,71.5h0M258.1,71.9h0M259.1,72.4h0M260.1,72.9h0M261.1,73.5h0M262.1,74.0h0M263.1,74.5h0M264.1,75.0h0M265.1,75.6h0M266.1,76.1h0M267.1,76.7h0M268.1,77.3h0M269.1,77.8h0M270.1,78.4h0M271.1,79.0h0M272.1,79.6h0M273.1,80.2h0M274.1,80.7h0M275.1,81.3h0M276.1,81.9h0M277.1,82.5h0M278.1,83.1h0M279.1,83.8h0M280.1,84.4h0M281.1,85.0h0M282.1,85.6h0M283.1,86.2h0M284.1,86.8h0M285.0,87.4h0M286.0,88.1h0M287.0,88.7h0M288.0,89.3h0M289.0,89.9h0M290.0,90.5h0M291.0,91.1h0M292.0,91.8h0M293.0,92.4h0M294.0,93.0h0M295.0,93.6h0M296.0,94.2h0M297.0,94.8h0M298.0,95.4h0M299.0,96.0h0M300.0,96.6h0M301.0,97.2h0M302.0,97.8h0M303.0,98.4h0M304.0,99.0h0M305.0,99.6h0M306.0,100.2h0M307.0,100.8h0M308.0,101.3h0M309.0,101.9h0M310.0,102.5h0M311.0,103.0h0M312.0,103.6h0M313.0,104.2h0M314.0,104.7h0M315.0,105.2h0M316.0,105.8h0M317.0,106.3h0M318.0,106.9h0M319.0,107.4h0M320.0,107.9h0M321.0,108.4h0M322.0,108.9h0M323.0,109.4h0M324.0,109.9h0M325.0,110.4h0M326.0,110.9h0M327.0,111.4h0M328.0,111.9h0M329.0,112.4h0M330.0,112.8h0M331.0,113.3h0M332.0,113.7h0M333.0,114.2h0M334.0,114.6h0M334.9,115.1h0M335.9,115.5h0M336.9,115.9h0M337.9,116.4h0M338.9,116.8h0M339.9,117.2h0M340.9,117.6h0M341.9,118.0h0M342.9,118.4h0M343.9,118.8h0M344.9,119.2h0M345.9,119.5h0M346.9,119.9h0M347.9,120.3h0M348.9,120.6h0M349.9,121.0h0M350.9,121.3h0M351.9,121.7h0M352.9,122.0h0M353.9,122.4h0M354.9,122.7h0M355.9,123.0h0M356.9,123.3h0M357.9,123.7h0M358.9,124.0h0M359.9,124.3h0M360.9,124.6h0M361.9,124.9h0M362.9,125.1h0M363.9,125.4h0M364.9,125.7h0M365.9,126.0h0M366.9,126.3h0M367.9,126.5h0M368.9,126.8h0M369.9,127.1h0M370.9,127.3h0M371.9,127.6h0M372.9,127.8h0M373.9,128.1h0M374.9,128.3h0M375.9,128.5h0M376.9,128.8h0M377.9,129.0h0M378.9,129.2h0M379.9,129.4h0M380.9,129.6h0M381.9,129.9h0M382.9,130.1h0M383.9,130.3h0M384.8,130.5h0M385.8,130.7h0M386.8,130.9h0M387.8,131.1h0M388.8,131.3h0M389.8,131.4h0M390.8,131.6h0M391.8,131.8h0M392.8,132.0h0M393.8,132.2h0M394.8,132.3h0M395.8,132.5h0M396.8,132.7h0M397.8,132.9h0M398.8,133.0h0M399.8,133.2h0M400.8,133.4h0M401.8,133.5h0M402.8,133.7h0M403.8,133.8h0M404.8,134.0h0M405.8,134.1h0M406.8,134.3h0M407.8,134.4h0M408.8,134.6h0M409.8,134.7h0M410.8,134.9h0M411.8,135.0h0M412.8,135.2h0M413.8,135.3h0M414.8,135.4h0M415.8,135.6h0M416.8,135.7h0M417.8,135.8h0M418.8,136.0h0M419.8,136.1h0M420.8,136.2h0M421.8,136.4h0M422.8,136.5h0M423.8,136.6h0M424.8,136.8h0M425.8,136.9h0M426.8,137.0h0M427.8,137.2h0M428.8,137.3h0M429.8,137.4h0M430.8,137.5h0M431.8,137.7h0M432.8,137.8h0M433.8,137.9h0M434.8,138.1h0M435.7,138.2h0M436.7,138.3h0M437.7,138.4h0M438.7,138.6h0M439.7,138.7h0M440.7,138.8h0M441.7,138.9h0M442.7,139.1h0M443.7,139.2h0M444.7,139.3h0M445.7,139.4h0M446.7,139.6h0M447.7,139.7h0M448.7,139.8h0M449.7,140.0h0M450.7,140.1h0M451.7,140.2h0M452.7,140.3h0M453.7,140.5h0M454.7,140.6h0M455.7,140.7h0M456.7,140.9h0M457.7,141.0h0M458.7,141.1h0M459.7,141.3h0M460.7,141.4h0M461.7,141.5h0M462.7,141.7h0M463.7,141.8h0M464.7,142.0h0M465.7,142.1h0M466.7,142.2h0M467.7,142.4h0M468.7,142.5h0M469.7,142.7h0M470.7,142.8h0M471.7,142.9h0M472.7,143.1h0M473.7,143.2h0M474.7,143.4h0M475.7,143.5h0M476.7,143.7h0M477.7,143.8h0M478.7,144.0h0M479.7,144.1h0M480.7,144.3h0M481.7,144.4h0M482.7,144.6h0M483.7,144.8h0M484.6,144.9h0M485.6,145.1h0M486.6,145.2h0M487.6,145.4h0M488.6,145.6h0M489.6,145.7h0M490.6,145.9h0M491.6,146.0h0M492.6,146.2h0M493.6,146.4h0M494.6,146.6h0M495.6,146.7h0M496.6,146.9h0M497.6,147.1h0M498.6,147.2h0M499.6,147.4h0M500.6,147.6h0M501.6,147.8h0M502.6,148.0h0M503.6,148.1h0M504.6,148.3h0M505.6,148.5h0M506.6,148.7h0M507.6,148.9h0M508.6,149.1h0M509.6,149.2h0M510.6,149.4h0M511.6,149.6h0M512.6,149.8h0M513.6,150.0h0M514.6,150.2h0M515.6,150.4h0M516.6,150.6h0M517.6,150.8h0M518.6,151.0h0M519.6,151.2h0M520.6,151.4h0M521.6,151.6h0M522.6,151.8h0M523.6,152.0h0M524.6,152.2h0M525.6,152.4h0M526.6,152.6h0M527.6,152.9h0M528.6,153.1h0M529.6,153.3h0M530.6,153.5h0M531.6,153.7h0M532.6,153.9h0M533.6,154.2h0M534.5,154.4h0M535.5,154.6h0M536.5,154.8h0M537.5,155.0h0M538.5,155.3h0M539.5,155.5h0M540.5,155.7h0M541.5,156.0h0M542.5,156.2h0M543.5,156.4h0M544.5,156.7h0M545.5,156.9h0M546.5,157.1h0M547.5,157.4h0M548.5,157.6h0M549.5,157.8h0M550.5,158.1h0M551.5,158.3h0M552.5,158.6h0M553.5,158.8h0M554.5,159.1h0M555.5,159.3h0M556.5,159.6h0M557.5,159.8h0M558.5,160.1h0M559.5,160.3h0" stroke="#ffff00" stroke-width="1.6" stroke-linecap="round" fill="none"/>
<g stroke="#000" stroke-width="1" fill="none">
<rect x="60.5" y="27.0" width="499.0" height="348.0"/>
<path d="M85.45,375.0v-4.5M85.45,27.0v4.5M110.40,375.0v-4.5M110.40,27.0v4.5M135.35,375.0v-4.5M135.35,27.0v4.5M160.30,375.0v-4.5M160.30,27.0v4.5M185.25,375.0v-4.5M185.25,27.0v4.5M210.20,375.0v-4.5M210.20,27.0v4.5M235.15,375.0v-4.5M235.15,27.0v4.5M260.10,375.0v-4.5M260.10,27.0v4.5M285.05,375.0v-4.5M285.05,27.0v4.5M310.00,375.0v-4.5M310.00,27.0v4.5M334.95,375.0v-4.5M334.95,27.0v4.5M359.90,375.0v-4.5M359.90,27.0v4.5M384.85,375.0v-4.5M384.85,27.0v4.5M409.80,375.0v-4.5M409.80,27.0v4.5M434.75,375.0v-4.5M434.75,27.0v4.5M459.70,375.0v-4.5M459.70,27.0v4.5M484.65,375.0v-4.5M484.65,27.0v4.5M509.60,375.0v-4.5M509.60,27.0v4.5M534.55,375.0v-4.5M534.55,27.0v4.5M60.5,332.82h4.5M559.5,332.82h-4.5M60.5,290.64h4.5M559.5,290.64h-4.5M60.5,248.45h4.5M559.5,248.45h-4.5M60.5,206.27h4.5M559.5,206.27h-4.5M60.5,164.09h4.5M559.5,164.09h-4.5M60.5,121.91h4.5M559.5,121.91h-4.5M60.5,79.73h4.5M559.5,79.73h-4.5M60.5,37.55h4.5M559.5,37.55h-4.5" stroke-width="0.85" stroke="#222"/>
</g>
<path d="M520,40.5H548" stroke="#b2b2b2" stroke-width="0.9"/>
<path d="M520,58.5H548" stroke="#0808ff" stroke-width="1.15" stroke-dasharray="3 1.15"/>
<path d="M520,76.6H548" stroke="#ff1010" stroke-width="1.1" stroke-dasharray="1.6 2.1"/>
<path d="M520,94.6H548" stroke="#202020" stroke-width="1" stroke-dasharray="1 0.9"/>
<circle cx="534.1" cy="112.1" r="0.8" fill="#00ffff"/>
<circle cx="534.1" cy="130.2" r="0.8" fill="#ffff00"/>
<g font-family="Liberation Serif, serif" font-size="14px" fill="#000">
<text x="62.30" y="390.1" text-anchor="middle">0</text>
<text x="87.25" y="390.1" text-anchor="middle">1</text>
<text x="112.20" y="390.1" text-anchor="middle">2</text>
<text x="137.15" y="390.1" text-anchor="middle">3</text>
<text x="162.10" y="390.1" text-anchor="middle">4</text>
<text x="187.05" y="390.1" text-anchor="middle">5</text>
<text x="212.00" y="390.1" text-anchor="middle">6</text>
<text x="236.95" y="390.1" text-anchor="middle">7</text>
<text x="261.90" y="390.1" text-anchor="middle">8</text>
<text x="286.85" y="390.1" text-anchor="middle">9</text>
<text x="311.80" y="390.1" text-anchor="middle">10</text>
<text x="336.75" y="390.1" text-anchor="middle">11</text>
<text x="361.70" y="390.1" text-anchor="middle">12</text>
<text x="386.65" y="390.1" text-anchor="middle">13</text>
<text x="411.60" y="390.1" text-anchor="middle">14</text>
<text x="436.55" y="390.1" text-anchor="middle">15</text>
<text x="461.50" y="390.1" text-anchor="middle">16</text>
<text x="486.45" y="390.1" text-anchor="middle">17</text>
<text x="511.40" y="390.1" text-anchor="middle">18</text>
<text x="536.35" y="390.1" text-anchor="middle">19</text>
<text x="561.30" y="390.1" text-anchor="middle">20</text>
<text x="54.5" y="379.60" text-anchor="end">0</text>
<text x="54.5" y="337.42" text-anchor="end">20</text>
<text x="54.5" y="295.24" text-anchor="end">40</text>
<text x="54.5" y="253.05" text-anchor="end">60</text>
<text x="54.5" y="210.87" text-anchor="end">80</text>
<text x="54.5" y="168.69" text-anchor="end">100</text>
<text x="54.5" y="126.51" text-anchor="end">120</text>
<text x="54.5" y="84.33" text-anchor="end">140</text>
<text x="54.5" y="42.15" text-anchor="end">160</text>
<text x="310" y="15.7" text-anchor="middle">Time evolution of V<tspan font-size="11px" dy="4">gas</tspan><tspan dy="-4"> -- transition of DM states occurs at 1Gyr</tspan></text>
<text x="310.3" y="404.8" text-anchor="middle" font-size="17.3px">R(kpc)</text>
<text transform="translate(26,200.7) rotate(-90)" text-anchor="middle" font-size="17.2px">V<tspan font-size="12px" dy="5">gas</tspan><tspan dy="-5">(km s</tspan><tspan font-size="12px" dy="-8">-1</tspan><tspan dy="8">)</tspan></text>
<text x="514.5" y="44.9" text-anchor="end">0 Gyr</text>
<text x="514.5" y="63" text-anchor="end">1 Gyr</text>
<text x="514.5" y="81.1" text-anchor="end">1.1 Gyr</text>
<text x="514.5" y="99" text-anchor="end">4 Gyr</text>
<text x="514.5" y="115.6" text-anchor="end">V<tspan font-size="11px" dy="4">analitica-ini</tspan></text>
<text x="514.5" y="133.7" text-anchor="end">V<tspan font-size="11px" dy="4">analitica-fin</tspan></text>
</g>
</svg>
</body></html>
